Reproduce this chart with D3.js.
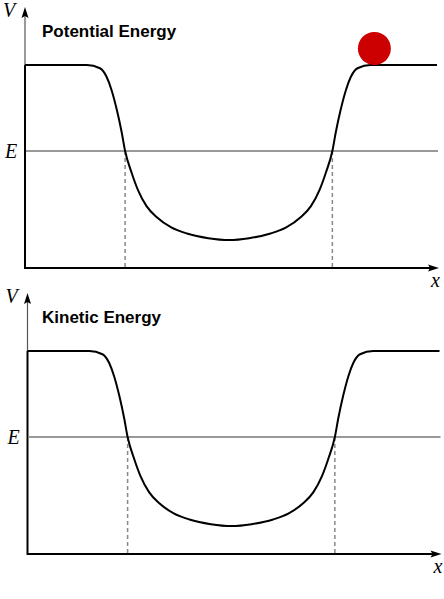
<!DOCTYPE html>
<html>
<head>
<meta charset="utf-8">
<script src="https://cdn.jsdelivr.net/npm/d3@7"></script>
<style>
	body {
		margin: 0;
		background: #fff;
	}

	svg {
		display: block;
	}

	.curve {
		fill: none;
		stroke: #000;
		stroke-width: 2;
	}

	.axis {
		stroke: #000;
		stroke-width: 2;
	}

	.axis.thin {
		stroke-width: 1.2;
		stroke: #555;
	}

	.arrow {
		fill: #000;
	}

	.energy {
		stroke: #999;
		stroke-width: 2;
	}

	.turn {
		stroke: #888;
		stroke-width: 1.5;
		stroke-dasharray: 4 3;
	}

	text.title {
		font-family: "Liberation Sans", Arial, sans-serif;
		font-weight: bold;
		font-size: 17px;
		fill: #000;
	}

	text.sym {
		font-family: "Liberation Serif", "DejaVu Serif", serif;
		font-style: italic;
		font-size: 20px;
		fill: #000;
	}
</style>
</head>
<body>
<div id="chart"></div>
<script>
// curve (x in 0..10 along the axis, V in 0..10)
const posX = [0, 1.5, 1.82, 1.98, 2.1, 2.23, 2.35, 2.43, 2.59, 2.74, 2.95, 3.2, 3.55, 3.93, 4.45, 4.95,
	5.44, 5.96, 6.34, 6.69, 6.94, 7.15, 7.3, 7.46, 7.54, 7.66, 7.79, 7.91, 8.07, 8.39, 10];
const energyV = [10, 10, 9.84, 9.42, 8.77, 7.78, 6.65, 5.76, 4.68, 3.85, 3.05, 2.5, 2.0, 1.7, 1.47, 1.38,
	1.47, 1.7, 2.0, 2.5, 3.05, 3.85, 4.68, 5.76, 6.65, 7.78, 8.77, 9.42, 9.84, 10, 10];
const levelE = 5.76;
const turningX = [2.43, 7.46];
const ballX = [8.48];
const panelTitles = ["Potential Energy", "Kinetic Energy"];

const W = 444, H = 599;
const plotW = 412, plotH = 203;

const svg = d3.select("#chart").append("svg")
	.attr("width", W)
	.attr("height", H);

const x = d3.scaleLinear().domain([0, 10]).range([0, plotW]);
const y = d3.scaleLinear().domain([0, 10]).range([plotH, 0]);

const line = d3.line()
	.x(d => x(d[0]))
	.y(d => y(d[1]))
	.curve(d3.curveMonotoneX);

const pts = posX.map((v, i) => [v, energyV[i]]);

// two panels, the second one is shifted a bit to the right
const panels = [
	{ title: panelTitles[0], ox: 25, oy: 268, ball: true },
	{ title: panelTitles[1], ox: 27.5, oy: 554, ball: false }
];

panels.forEach(p => {
	const g = svg.append("g")
		.attr("transform", `translate(${p.ox}, ${p.oy - plotH})`);

	const yTop = y(10) - 58;
	const xEnd = x(10) + 2;

	// y axis: thin above the plateau, the curve covers the lower part
	g.append("line")
		.attr("class", "axis thin")
		.attr("x1", 0).attr("x2", 0)
		.attr("y1", yTop + 6).attr("y2", y(10));
	g.append("line")
		.attr("class", "axis")
		.attr("x1", 0).attr("x2", 0)
		.attr("y1", y(10)).attr("y2", y(0) + 1);
	g.append("path")
		.attr("class", "arrow")
		.attr("d", `M0,${yTop} L3.5,${yTop + 11} L0,${yTop + 9} L-3.5,${yTop + 11} Z`);

	// x axis
	g.append("line")
		.attr("class", "axis")
		.attr("x1", 0).attr("x2", xEnd - 4)
		.attr("y1", y(0)).attr("y2", y(0));
	g.append("path")
		.attr("class", "arrow")
		.attr("d", `M${xEnd},${y(0)} L${xEnd - 11},${y(0) - 3.5} L${xEnd - 9},${y(0)} L${xEnd - 11},${y(0) + 3.5} Z`);

	// energy level
	g.append("line")
		.attr("class", "energy")
		.attr("x1", 1).attr("x2", x(10) + 1)
		.attr("y1", y(levelE)).attr("y2", y(levelE));

	// turning points
	g.selectAll(".turn")
		.data(turningX)
		.enter()
		.append("line")
		.attr("class", "turn")
		.attr("x1", d => x(d)).attr("x2", d => x(d))
		.attr("y1", y(levelE)).attr("y2", y(0));

	g.append("path")
		.attr("class", "curve")
		.attr("d", line(pts));

	if (p.ball) {
		const r = 16.5;
		g.selectAll(".ball")
			.data(ballX)
			.enter()
			.append("circle")
			.attr("class", "ball")
			.attr("cx", d => x(d))
			.attr("cy", y(10) - r)
			.attr("r", r)
			.attr("fill", "#cc0000");
	}

	g.append("text")
		.attr("class", "title")
		.attr("x", 42 - p.ox)
		.attr("y", y(10) - 28.5)
		.text(p.title);

	g.append("text")
		.attr("class", "sym")
		.attr("x", -22)
		.attr("y", yTop + 10)
		.text("V");

	g.append("text")
		.attr("class", "sym")
		.attr("x", -20)
		.attr("y", y(levelE) + 7)
		.text("E");

	g.append("text")
		.attr("class", "sym")
		.attr("x", x(10) - 6)
		.attr("y", y(0) + 19)
		.text("x");
});
</script>
</body>
</html>
